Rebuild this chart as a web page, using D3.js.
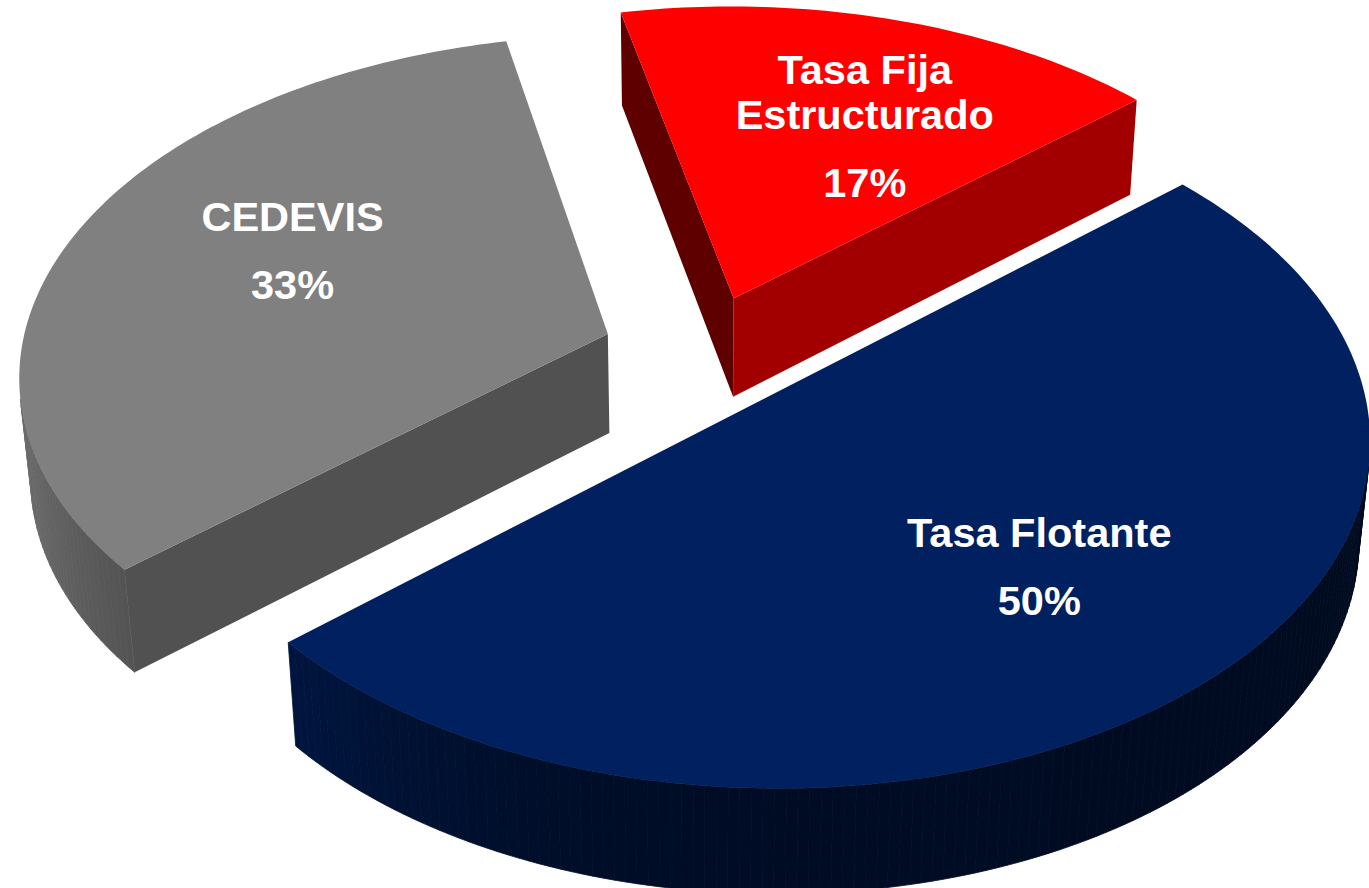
<!DOCTYPE html>
<html>
<head>
<meta charset="utf-8">
<script src="https://cdn.jsdelivr.net/npm/d3@7"></script>
<style>
  body { margin: 0; background: #fff; }
  svg { display: block; }
</style>
</head>
<body>
<svg id="chart"></svg>
<script>
// data
const categories = ['Tasa Flotante', 'CEDEVIS', 'Tasa Fija Estructurado']
const shares = [50, 33, 17]
const labelLines = [['Tasa Flotante'], ['CEDEVIS'], ['Tasa Fija', 'Estructurado']]

// styles / layout
const colors = ['#002060', '#808080', '#ff0000']
const width = 1369, height = 888
const view = { elevation: 35, distance: 7.18, focal: 4215, cx: 702.5, cy: 352 }
const thickness = 0.21, explode = 0.171, firstAngle = 49
const labelRadius = [0.628, 0.618, 0.618], labelTurn = [-1.3, 6.4, 5]
const fontSize = 41.5, nameGap = 45, pctGap = 68, capHeight = 30

const toRad = Math.PI / 180
const sinE = Math.sin(view.elevation * toRad), cosE = Math.cos(view.elevation * toRad)
const camera = [0, -view.distance * cosE, view.distance * sinE]

const svg = d3.select('#chart').attr('width', width).attr('height', height)

function project([x, y, z]) {
  const depth = view.distance + y * cosE - z * sinE
  return [view.cx + view.focal * x / depth, view.cy - view.focal * (y * sinE + z * cosE) / depth]
}

function facing(normal, point) {
  return normal[0] * (camera[0] - point[0]) +
    normal[1] * (camera[1] - point[1]) +
    normal[2] * (camera[2] - point[2]) > 0
}

function shade(color, k) {
  const c = d3.rgb(color)
  return d3.rgb(c.r * k, c.g * k, c.b * k).formatHex()
}

const sideShade = nx => nx < 0 ? 0.38 + 0.48 * nx * nx : 0.38 - 0.05 * nx
const radialShade = nx => 0.53 + 0.16 * nx

const line = d3.line()
const polygon = pts => line(pts.map(project)) + 'Z'
const pct = d3.format('.0%')
const total = d3.sum(shares)

const pie = d3.pie().sort(null)
  .startAngle(firstAngle * toRad)
  .endAngle((firstAngle + 360) * toRad)

const slices = pie(shares).map((a, i) => {
  const mid = (a.startAngle + a.endAngle) / 2
  const ox = explode * Math.sin(mid), oy = explode * Math.cos(mid)
  const at = (ang, r, z) => [ox + r * Math.sin(ang), oy + r * Math.cos(ang), z]
  const n = Math.ceil((a.endAngle - a.startAngle) / toRad)
  const angles = d3.range(n + 1).map(k => a.startAngle + (a.endAngle - a.startAngle) * k / n)
  return { a, i, mid, ox, oy, at, angles }
})

// far slices first
slices.sort((p, q) => q.oy - p.oy)

slices.forEach(s => {
  const g = svg.append('g').attr('class', 'slice')
  const base = colors[s.i]
  const t = -thickness
  const faces = []

  // radial faces
  const sA = s.a.startAngle, eA = s.a.endAngle
  const startNormal = [-Math.cos(sA), Math.sin(sA), 0]
  const endNormal = [Math.cos(eA), -Math.sin(eA), 0]
  if (facing(startNormal, s.at(sA, 0.5, t / 2))) {
    faces.push({ pts: [s.at(sA, 0, 0), s.at(sA, 1, 0), s.at(sA, 1, t), s.at(sA, 0, t)],
      fill: shade(base, radialShade(startNormal[0])) })
  }
  if (facing(endNormal, s.at(eA, 0.5, t / 2))) {
    faces.push({ pts: [s.at(eA, 0, 0), s.at(eA, 1, 0), s.at(eA, 1, t), s.at(eA, 0, t)],
      fill: shade(base, radialShade(endNormal[0])) })
  }

  // outer rim
  d3.pairs(s.angles).forEach(([a0, a1]) => {
    const m = (a0 + a1) / 2
    const normal = [Math.sin(m), Math.cos(m), 0]
    if (!facing(normal, s.at(m, 1, t / 2))) return
    faces.push({ pts: [s.at(a0, 1, 0), s.at(a1, 1, 0), s.at(a1, 1, t), s.at(a0, 1, t)],
      fill: shade(base, sideShade(normal[0])), seam: true })
  })

  // top
  faces.push({ pts: [s.at(sA, 0, 0), ...s.angles.map(a => s.at(a, 1, 0))], fill: base })

  g.selectAll('path')
    .data(faces)
    .enter().append('path')
    .attr('d', d => polygon(d.pts))
    .attr('fill', d => d.fill)
    .attr('stroke', d => d.seam ? d.fill : 'none')
    .attr('stroke-width', d => d.seam ? 0.8 : 0)
    .attr('stroke-linejoin', 'round')
})

// labels
const labels = svg.append('g').attr('class', 'labels')
pie(shares).forEach((a, i) => {
  const mid = (a.startAngle + a.endAngle) / 2
  const ang = mid + labelTurn[i] * toRad
  const ox = explode * Math.sin(mid), oy = explode * Math.cos(mid)
  const [lx, ly] = project([ox + labelRadius[i] * Math.sin(ang), oy + labelRadius[i] * Math.cos(ang), 0])
  const lines = labelLines[i]
  const span = nameGap * (lines.length - 1) + pctGap - capHeight
  const y0 = ly - span / 2
  const rows = lines.map((txt, k) => ({ txt, y: y0 + k * nameGap }))
  rows.push({ txt: pct(shares[i] / total), y: y0 + nameGap * (lines.length - 1) + pctGap })
  labels.selectAll(null)
    .data(rows)
    .enter().append('text')
    .attr('x', lx)
    .attr('y', d => d.y)
    .attr('text-anchor', 'middle')
    .attr('fill', '#fff')
    .attr('font-family', '"Liberation Sans", Arial, sans-serif')
    .attr('font-weight', 'bold')
    .attr('font-size', fontSize)
    .text(d => d.txt)
})
</script>
</body>
</html>
